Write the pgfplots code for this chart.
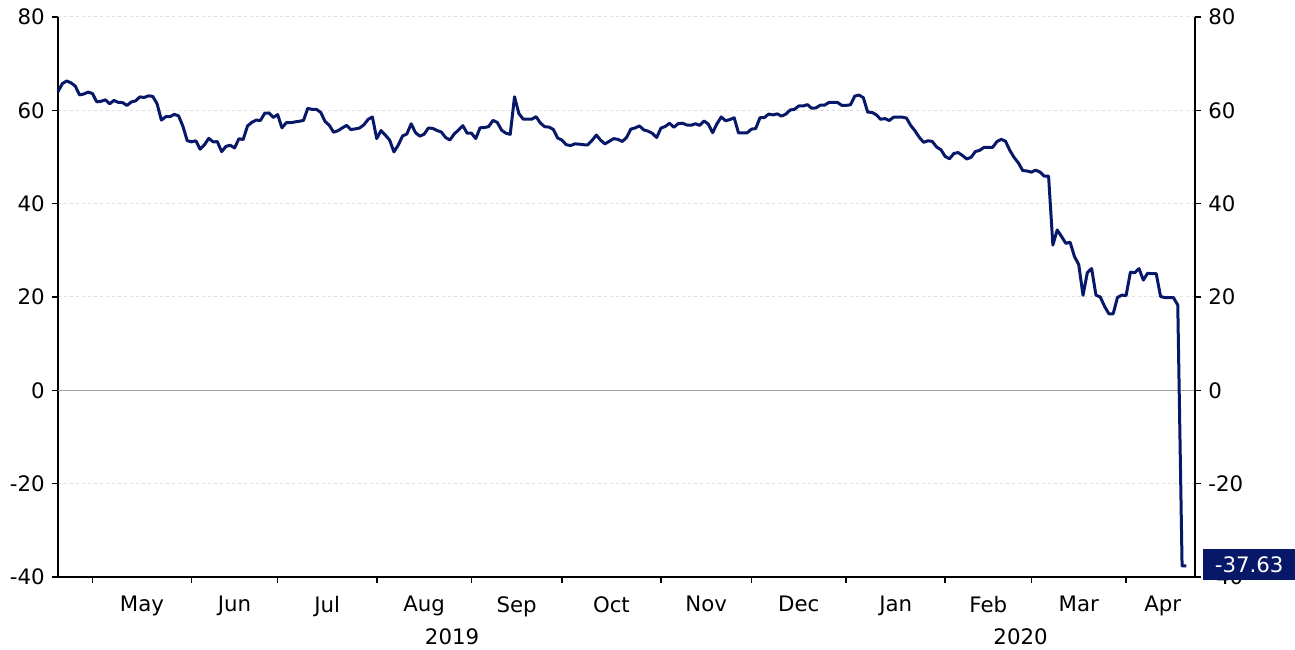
\documentclass[border=0pt]{standalone}
\usepackage{fontspec}
\setmainfont{DejaVu Sans}
\usepackage{pgfplots}
\pgfplotsset{compat=1.18}

\definecolor{navy}{RGB}{8,24,104}
\definecolor{gridgray}{RGB}{222,222,222}
\definecolor{zerogray}{RGB}{165,165,165}

% x = weekday index, 0 = 1 May 2019
\pgfplotstableread{
x y
-8 64.00
-7 65.70
-6 66.30
-5 65.89
-4 65.21
-3 63.30
-2 63.50
-1 63.91
0 63.60
1 61.81
2 61.94
3 62.25
4 61.40
5 62.12
6 61.70
7 61.66
8 61.04
9 61.78
10 62.02
11 62.87
12 62.76
13 63.10
14 62.99
15 61.42
16 57.91
17 58.63
18 58.63
19 59.14
20 58.81
21 56.59
22 53.50
23 53.25
24 53.48
25 51.68
26 52.59
27 53.99
28 53.26
29 53.27
30 51.14
31 52.28
32 52.51
33 51.93
34 53.90
35 53.76
36 56.65
37 57.43
38 57.90
39 57.83
40 59.38
41 59.43
42 58.47
43 59.09
44 56.25
45 57.34
46 57.34
47 57.51
48 57.66
49 57.83
50 60.43
51 60.20
52 60.21
53 59.58
54 57.62
55 56.78
56 55.30
57 55.63
58 56.22
59 56.77
60 55.88
61 56.02
62 56.20
63 56.87
64 58.05
65 58.58
66 53.95
67 55.66
68 54.69
69 53.63
70 51.09
71 52.54
72 54.50
73 54.93
74 57.10
75 55.23
76 54.47
77 54.87
78 56.21
79 56.13
80 55.68
81 55.35
82 54.17
83 53.64
84 54.93
85 55.78
86 56.71
87 55.10
88 55.10
89 53.94
90 56.26
91 56.30
92 56.52
93 57.85
94 57.40
95 55.75
96 55.09
97 54.85
98 62.90
99 59.34
100 58.11
101 58.13
102 58.09
103 58.64
104 57.29
105 56.49
106 56.41
107 55.91
108 54.07
109 53.62
110 52.64
111 52.45
112 52.81
113 52.75
114 52.63
115 52.59
116 53.55
117 54.70
118 53.59
119 52.81
120 53.36
121 53.93
122 53.78
123 53.31
124 54.16
125 55.97
126 56.23
127 56.66
128 55.81
129 55.54
130 55.06
131 54.18
132 56.20
133 56.54
134 57.23
135 56.35
136 57.15
137 57.24
138 56.86
139 56.80
140 57.12
141 56.77
142 57.72
143 57.05
144 55.21
145 57.11
146 58.58
147 57.77
148 58.01
149 58.41
150 55.17
151 55.17
152 55.17
153 55.96
154 56.10
155 58.43
156 58.43
157 59.20
158 59.02
159 59.24
160 58.76
161 59.18
162 60.07
163 60.21
164 60.94
165 60.93
166 61.22
167 60.44
168 60.52
169 61.11
170 61.11
171 61.68
172 61.72
173 61.68
174 61.06
175 61.06
176 61.18
177 63.05
178 63.27
179 62.70
180 59.61
181 59.56
182 59.04
183 58.08
184 58.23
185 57.81
186 58.52
187 58.54
188 58.54
189 58.34
190 56.74
191 55.59
192 54.19
193 53.14
194 53.48
195 53.33
196 52.14
197 51.56
198 50.11
199 49.61
200 50.75
201 50.95
202 50.32
203 49.57
204 49.94
205 51.17
206 51.42
207 52.05
208 52.05
209 52.05
210 53.29
211 53.78
212 53.38
213 51.43
214 49.90
215 48.73
216 47.09
217 47.00
218 46.75
219 47.18
220 46.78
221 45.90
222 45.90
223 31.13
224 34.36
225 32.98
226 31.50
227 31.73
228 28.70
229 26.95
230 20.37
231 25.22
232 26.10
233 20.40
234 20.00
235 18.00
236 16.40
237 16.40
238 19.90
239 20.40
240 20.31
241 25.32
242 25.20
243 26.08
244 23.63
245 25.09
246 25.00
247 25.00
248 20.11
249 19.87
250 19.87
251 19.87
252 18.27
253 -37.63
254 -37.63
}\wti

\begin{document}
\fontsize{21.3}{25}\selectfont
\begin{tikzpicture}
\pgfplotsset{
  base/.style={
    scale only axis, width=1137pt, height=560pt,
    xmin=-8, xmax=256, ymin=-40, ymax=80,
    ytick={-40,-20,0,20,40,60,80},
    yticklabels={-40,-20,0,20,40,60,80},
    tick align=outside, major tick length=6pt,
    every tick/.style={black, line width=1.6pt},
    axis line style={black, line width=1.6pt},
    tick label style={font=\fontsize{21.3}{25}\selectfont},
    clip=false,
  },
}
\begin{axis}[base,
  axis x line*=bottom, axis y line*=left,
  xtick={0,23,43,66,88,109,132,153,175,198,218,240},
  xticklabels={},
  extra x ticks={11.5,33,54.5,77,98.5,120.5,142.5,164,186.5,208,229,248.5},
  extra x tick labels={May,Jun,Jul,Aug,Sep,Oct,Nov,Dec,Jan,Feb,Mar,Apr},
  extra x tick style={major tick length=0pt, grid=none,
    xticklabel style={yshift=-12pt}},
  ymajorgrids, y grid style={gridgray, dashed, line width=1pt},
]
\addplot[zerogray, line width=1pt, forget plot] coordinates {(-8,0) (256,0)};
\addplot[navy, line width=3pt, line join=round, mark=none] table[x=x, y=y] {\wti};
\node at (axis cs:83.5,-40) [yshift=-60pt] {2019};
\node at (axis cs:215.5,-40) [yshift=-60pt] {2020};
\end{axis}
\begin{axis}[base,
  axis y line*=right, axis x line=none,
  xtick=\empty,
]
\node[fill=navy, text=white, anchor=west, minimum width=92pt, minimum height=31pt, inner sep=0pt]
  at (axis cs:256,-37.63) [xshift=8pt, yshift=1pt] {-37.63};
\end{axis}
\pgfresetboundingbox
\path ([shift={(-58pt,-73pt)}]current axis.south west) rectangle ([shift={(100pt,17pt)}]current axis.north east);
\end{tikzpicture}
\end{document}
